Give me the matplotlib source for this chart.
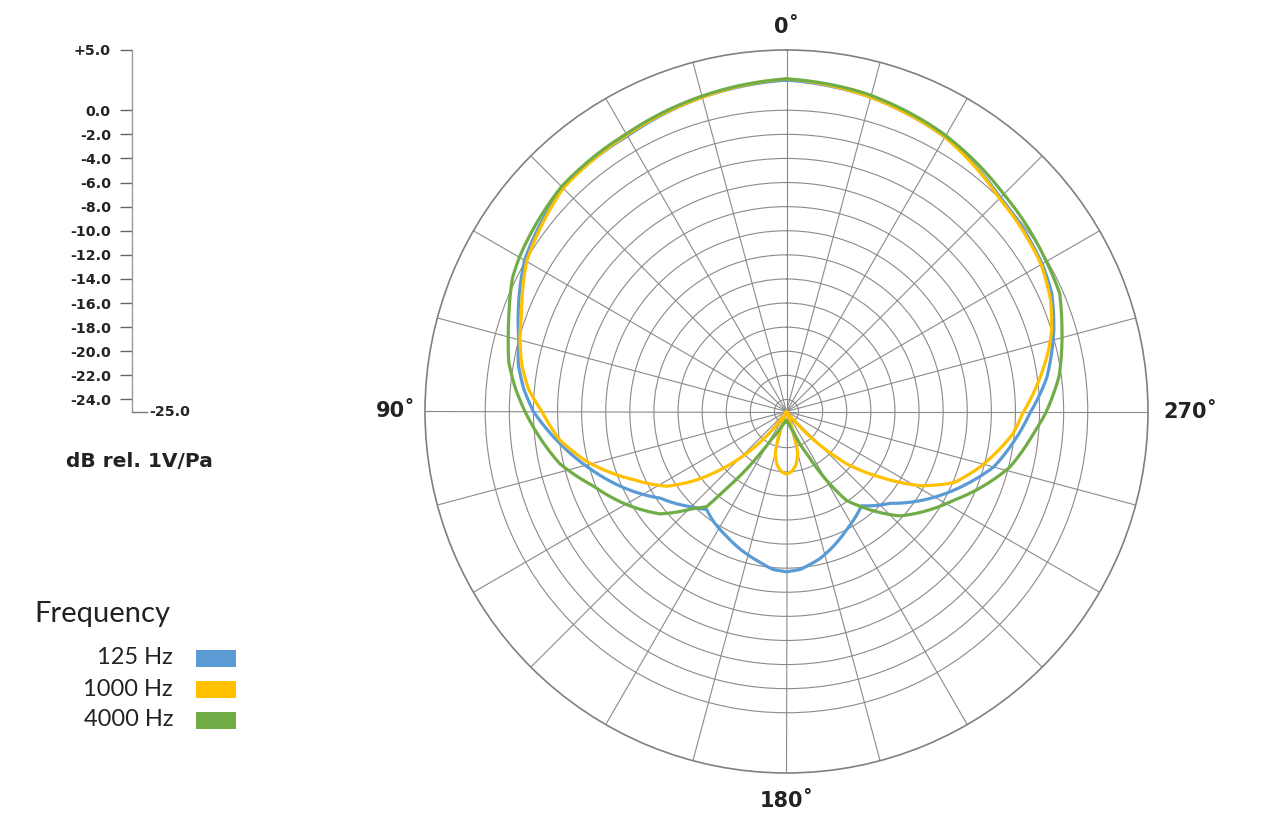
import numpy as np
import matplotlib
matplotlib.use("Agg")
import matplotlib.pyplot as plt
from matplotlib.patches import Rectangle

# polar response, angles in degrees (0 = front, counter-clockwise), values in dB rel. 1V/Pa
ang_125 = [0, 15, 30, 45, 60, 70, 75, 80, 85, 90, 98, 107, 116, 124.5, 135.6, 140.8, 147, 154.5, 162, 170, 175, 180,
           185, 193, 207, 218.5, 228.5, 237, 248, 255, 264.7, 269.6, 274, 277.5, 287, 294, 300, 315, 330, 345, 360]
db_125 = [2.5, 2.0, 1.4, 1.3, 0.1, -1.3, -2.0, -2.4, -3.1, -4.0, -6.0, -8.2, -10.3, -12.3, -13.9, -14.5, -14.0, -13.5, -12.9, -12.3, -11.85, -11.7,
          -11.85, -12.5, -14.0, -15.0, -13.5, -11.5, -8.9, -7.2, -5.6, -4.8, -3.9, -3.2, -1.8, -0.9, -0.5, 0.1, 1.3, 2.0, 2.5]

ang_1000 = [0, 15, 30, 45, 60, 70, 75, 80, 85, 90, 97, 104, 109, 114, 122, 127, 132, 136, 140, 144, 147,
            160, 162, 165, 170, 175, 180, 185, 190, 195, 198, 200,
            218, 222, 229, 235, 241, 247, 254, 264.5, 269.6, 274, 278, 283, 287, 293, 300, 315, 330, 345, 360]
db_1000 = [2.6, 2.0, 1.5, 1.2, -0.1, -1.6, -2.1, -2.7, -3.5, -4.7, -6.0, -7.9, -9.5, -11.1, -13.3, -15.5, -18.0, -20.0, -22.0, -24.0, -25.0,
           -25.0, -23.0, -21.4, -20.5, -20.0, -19.8, -20.0, -20.5, -21.4, -23.0, -25.0,
           -25.0, -22.9, -18.4, -15.5, -12.3, -9.9, -8.3, -6.1, -5.4, -4.5, -3.7, -2.7, -2.0, -1.2, -0.6, 0.0, 1.3, 2.0, 2.6]

ang_4000 = [0, 15, 30, 45, 60, 64, 70, 75, 80, 85, 90, 103, 111, 120, 129, 136, 140, 142, 145, 148, 152, 160, 170, 180,
            190, 199, 206, 210, 214, 218, 227.4, 242, 250, 256, 265, 269.6, 277.3, 287, 293.4, 300, 315, 331, 346, 360]
db_4000 = [2.6, 2.1, 1.6, 1.4, 0.6, 0.3, -0.5, -1.1, -1.6, -2.4, -3.3, -5.7, -7.8, -9.6, -11.5, -13.8, -14.7, -16.9, -19.0, -21.0, -22.5, -23.6, -24.1, -24.3,
           -24.0, -23.2, -21.0, -18.5, -16.1, -15.0, -12.2, -9.3, -7.35, -5.9, -4.4, -3.5, -2.2, -1.1, -0.3, -0.1, 0.5, 1.5, 2.2, 2.6]

series_labels = ["125 Hz", "1000 Hz", "4000 Hz"]
series_colors = ["#5B9BD5", "#FFC000", "#70AD47"]
scale_ticks = [5, 0, -2, -4, -6, -8, -10, -12, -14, -16, -18, -20, -22, -24]
ring_levels = [-24, -22, -20, -18, -16, -14, -12, -10, -8, -6, -4, -2, 0]

W, H = 1262, 831
fig = plt.figure(figsize=(W / 100, H / 100), dpi=100)

# polar axes, centre at (786.5, 411.5) px, radius 361.5 px
cx, cy, R = 786.5, 411.5, 361.5
ax = fig.add_axes([(cx - R) / W, (H - cy - R) / H, 2 * R / W, 2 * R / H], projection="polar")
ax.set_theta_zero_location("N")
ax.set_theta_direction(1)
ax.set_rlim(-25, 5)
ax.set_rticks(ring_levels)
ax.set_yticklabels([])
ax.set_thetagrids(np.arange(0, 360, 15), labels=[""] * 24)
ax.grid(True, color="#8a8a8a", linewidth=0.8)
ax.spines["polar"].set_color("#808080")
ax.spines["polar"].set_linewidth(1.2)
ax.tick_params(length=0)

for a, d, c in zip([ang_125, ang_1000, ang_4000], [db_125, db_1000, db_4000], series_colors):
    line, = ax.plot(np.deg2rad(a), d, color=c, linewidth=2.3, solid_joinstyle="round")
    # draw segments as curves in polar space rather than chords
    line.get_path()._interpolation_steps = 30

# angle labels
lab_font = dict(fontsize=15, fontweight="bold", color="#222222", ha="center", va="center")
ax.text(np.deg2rad(0), 6.9, "0˚", clip_on=False, **lab_font)
ax.text(np.deg2rad(90), 7.4, "90˚", clip_on=False, **lab_font)
ax.text(np.deg2rad(180), 7.3, "180˚", clip_on=False, **lab_font)
ax.text(np.deg2rad(270), 8.5, "270˚", clip_on=False, **lab_font)

# dB scale on the left
sx = fig.add_axes([131.7 / W, (H - cy) / H, 15 / W, R / H])
sx.set_ylim(-25, 5)
sx.set_xlim(0, 1)
for s in ["top", "right"]:
    sx.spines[s].set_visible(False)
sx.spines["left"].set_color("#999999")
sx.spines["bottom"].set_color("#777777")
sx.spines["left"].set_linewidth(1.0)
sx.spines["bottom"].set_linewidth(1.0)
sx.set_xticks([])
sx.set_yticks(scale_ticks)
sx.set_yticklabels(["+5.0" if t > 0 else f"{t:.1f}" for t in scale_ticks],
                   fontsize=10.2, fontweight="bold", color="#222222")
sx.tick_params(axis="y", length=9, width=1.0, color="#666666", pad=6)
sx.text(1.2, -25, "-25.0", transform=sx.transData, fontsize=10.2, fontweight="bold",
        color="#222222", ha="left", va="center", clip_on=False)
sx.patch.set_visible(False)

fig.text(139 / W, 1 - 461 / H, "dB rel. 1V/Pa", fontsize=14.5, fontweight="bold",
         color="#222222", ha="center", va="center")

# legend
fig.text(34 / W, 1 - 614 / H, "Frequency", fontsize=21, family="Lato", color="#222222",
         ha="left", va="center")
for i, (lab, c) in enumerate(zip(series_labels, series_colors)):
    yc = 658 + 31 * i
    fig.text(173 / W, 1 - yc / H, lab, fontsize=17, family="Lato", color="#222222",
             ha="right", va="center")
    fig.patches.append(Rectangle((196 / W, 1 - (yc + 8.5) / H), 40 / W, 17 / H,
                                 transform=fig.transFigure, facecolor=c, edgecolor="none"))

fig.savefig("out.png", dpi=100, facecolor="white")
